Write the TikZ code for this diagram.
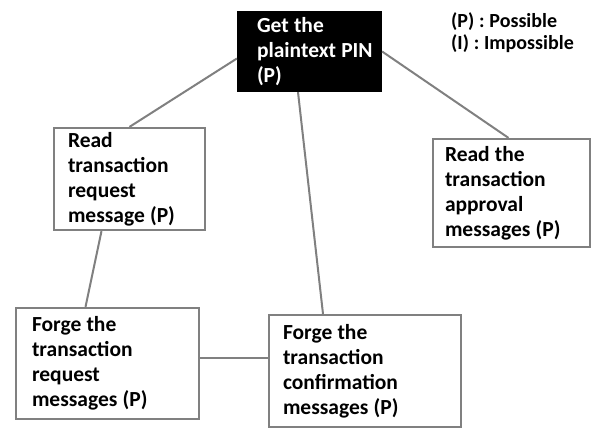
\documentclass[tikz,border=0pt]{standalone}
\usepackage{fontspec}
\setmainfont{Carlito}
\usetikzlibrary{calc}
\begin{document}
\begin{tikzpicture}[x=1pt, y=-1pt,
            b/.style={rectangle, draw=gray, line width=2.2pt, fill=white, align=left,
            inner xsep=14pt, inner ysep=0pt, font=\fontsize{21.5}{25}\selectfont\bfseries,
            execute at begin node={\spaceskip=5.2pt\relax}},
            l/.style={draw=gray, line width=2pt}]
            \useasboundingbox (0,0) rectangle (602,428);

            \node[b, fill=black, draw=black, text=white, inner xsep=19pt, text width=105pt,
            minimum width=143pt, minimum height=79pt] (pin) at (309.5,51.5) {Get the\\plaintext~PIN\\(P)};
            \node[b, text width=123pt, minimum width=151pt, minimum height=102pt] (req) at (129.5,179)
            {Read\\transaction\\request\\message (P)};
            \node[b, inner xsep=12pt, text width=133pt, minimum width=157pt, minimum height=108pt] (appr) at (511.5,193)
            {Read the\\transaction\\approval\\messages (P)};
            \node[b, inner xsep=16pt, text width=151pt, minimum width=183pt, minimum height=111pt] (freq) at (107.5,363.5)
            {Forge the\\transaction\\request\\messages (P)};
            \node[b, text width=164pt, minimum width=192pt, minimum height=112pt] (fconf) at (365,371)
            {Forge the\\transaction\\confirmation\\messages (P)};

            \node[anchor=north west, inner sep=0pt, align=left, font=\fontsize{20}{22}\selectfont\bfseries,
            execute at begin node={\spaceskip=4.8pt\relax}] (key) at (451,12)
            {(P) : Possible\\(I) : Impossible};

            \draw[l] ([yshift=-7pt]pin.west) to (req.north);
            \draw[l] (pin.east) to ([xshift=-3pt]appr.north);
            \draw[l] ([xshift=-11.5pt]pin.south) to ([xshift=-42pt]fconf.north);
            \draw[l] ([xshift=-28pt]req.south) to ([xshift=-22pt]freq.north);
            \draw[l] ([yshift=5.5pt]freq.east) to ([yshift=5.5pt]freq.east -| fconf.west);
        \end{tikzpicture}
\end{document}
